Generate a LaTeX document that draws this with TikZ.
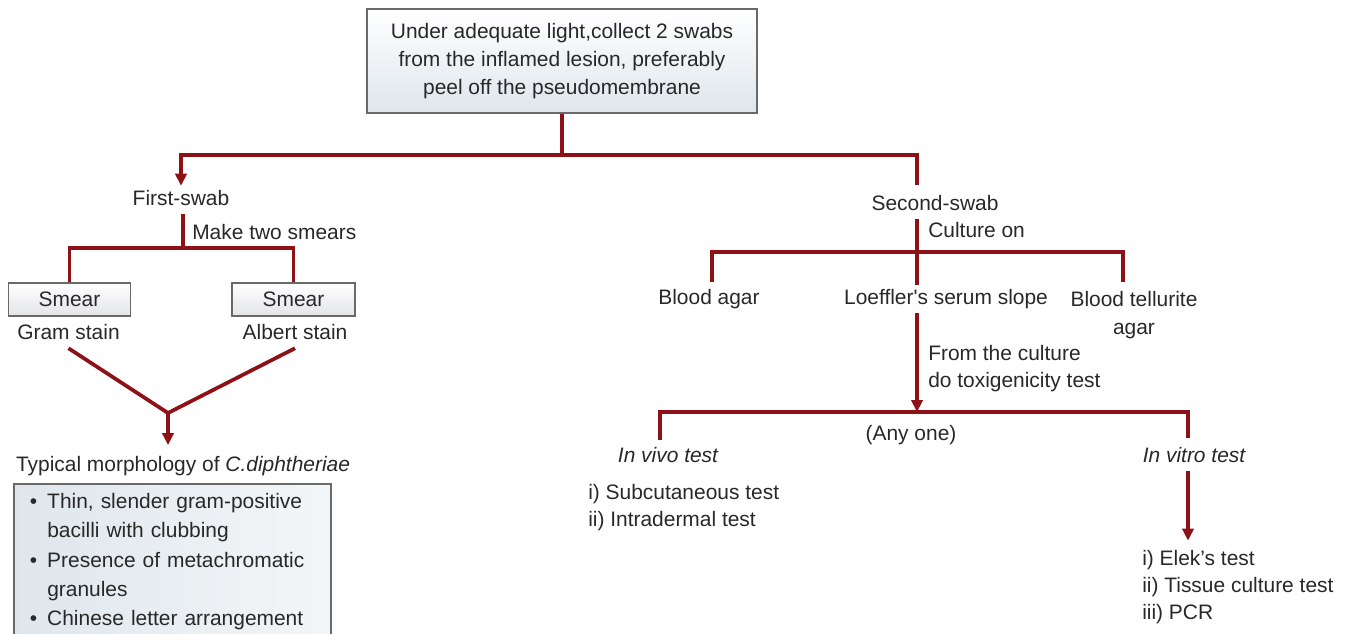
\documentclass[tikz,border=0pt]{standalone}
\usepackage{fontspec}
\setmainfont{Liberation Sans}
\usepackage{tikz}
\usetikzlibrary{arrows.meta,positioning,calc}
\definecolor{linkred}{RGB}{140,18,24}
\definecolor{inkgray}{RGB}{40,40,40}
\definecolor{framegray}{RGB}{105,105,105}
\definecolor{paleblue}{RGB}{222,230,236}
\definecolor{palegray}{RGB}{226,228,230}
\newcommand{\chartfont}{\fontsize{15.7pt}{20.3pt}\selectfont}
\newcommand{\taxon}[1]{\textit{#1}}
\tikzset{
  lbl/.style={font=\chartfont,text=inkgray,inner xsep=0pt,inner ysep=3pt,text height=11.5pt,text depth=3.5pt},
  lbltwo/.style={font=\chartfont,text=inkgray,inner xsep=0pt,inner ysep=4pt},
  topbox/.style={draw=framegray,line width=1.1pt,top color=white,bottom color=paleblue,minimum width=292.5pt,minimum height=78pt,align=center,text=inkgray,font=\fontsize{15.7pt}{21pt}\selectfont},
  smearbox/.style={draw=framegray,line width=0.9pt,top color=white,bottom color=palegray,minimum height=24.75pt,inner sep=0pt,text=inkgray,font=\chartfont},
  morphbox/.style={draw=framegray,line width=1.4pt,left color=paleblue,right color=paleblue!35!white,text width=213.75pt,inner xsep=12pt,inner ysep=7pt,align=left,text=inkgray,font=\fontsize{15.7pt}{22pt}\selectfont},
  flow/.style={draw=linkred,line width=2.8pt},
  flowarr/.style={flow,-{Triangle[length=9pt,width=8.5pt]}}
}
\begin{document}
\begin{tikzpicture}[x=0.75pt,y=-0.75pt]
\useasboundingbox (0,0) rectangle (1348,634);
\clip (0,0) rectangle (1348,634);
\node[topbox] (collect) at (562,61) {Under adequate light,collect 2 swabs\\from the inflamed lesion, preferably\\peel off the pseudomembrane};
\coordinate (topjoin) at (562,155);
\coordinate (swabend) at (917,185);
\node[lbl] (firstswab) at (181,200) {First-swab};
\node[lbl,anchor=west] (twosmears) at (192,234) {Make two smears};
\coordinate (smearjoin) at (183,248);
\node[smearbox,minimum width=91.5pt] (smearL) at (69.5,299.5) {Smear};
\node[smearbox,minimum width=92.25pt] (smearR) at (293.5,299.5) {Smear};
\node[lbl] (gram) at (68.5,334) {Gram stain};
\node[lbl] (albert) at (295,334) {Albert stain};
\coordinate (vee) at (168,413);
\node[lbl] (morphtitle) at (183,466) {Typical morphology of \taxon{C.diphtheriae}};
\node[morphbox,anchor=north west] (morph) at (13,483) {\makebox[13pt][l]{•}Thin, slender gram-positive\\\hspace*{13pt}bacilli with clubbing\\\makebox[13pt][l]{•}Presence of metachromatic\\\hspace*{13pt}granules\\\makebox[13pt][l]{•}Chinese letter arrangement};
\node[lbl] (secondswab) at (935,205) {Second-swab};
\node[lbl,anchor=west] (cultureon) at (928,232) {Culture on};
\coordinate (cultjoin) at (917,252);
\coordinate (agarL) at (712,282);
\coordinate (agarR) at (1123,282);
\node[lbl] (bloodagar) at (709,299) {Blood agar};
\node[lbl] (loeffler) at (946,299) {Loeffler\textquotesingle s serum slope};
\node[lbltwo,align=center,font=\fontsize{15.7pt}{21.5pt}\selectfont] (tellurite) at (1134,315) {Blood tellurite\\agar};
\node[lbltwo,align=left,anchor=west] (fromculture) at (928,369) {From the culture\\do toxigenicity test};
\coordinate (testjoin) at (917,412);
\coordinate (vivoend) at (660,440);
\coordinate (vitroend) at (1188,438);
\node[lbl] (anyone) at (911,435) {(Any one)};
\node[lbl,font=\chartfont\itshape] (invivo) at (668,457) {In vivo test};
\node[lbl,font=\chartfont\itshape] (invitro) at (1194,457) {In vitro test};
\node[lbltwo,align=left,anchor=west] (vivolist) at (588,508) {i) Subcutaneous test\\ii) Intradermal test};
\node[lbltwo,align=left,anchor=west,inner ysep=7pt] (vitrolist) at (1142,587) {i) Elek’s test\\ii) Tissue culture test\\iii) PCR};

\draw[flow] (collect.south) -- (topjoin);
\draw[flowarr] (topjoin) -| (firstswab.north);
\draw[flow] (topjoin) -| (swabend);
\draw[flow] (smearjoin |- firstswab.south) -- (smearjoin);
\draw[flow] (smearL.north) |- (smearjoin) -| (smearR.north);
\draw[flow] (gram.south) -- (vee) -- (albert.south);
\draw[flowarr,shorten >=5pt] (vee) -- (vee |- morphtitle.north);
\draw[flow] (swabend |- secondswab.south) -- (cultjoin);
\draw[flow] (agarL) -- (agarL |- cultjoin) -- (agarR |- cultjoin) -- (agarR);
\draw[flow] (cultjoin) -- (cultjoin |- loeffler.north);
\draw[flowarr] (cultjoin |- loeffler.south) -- (testjoin);
\draw[flow] (vivoend) -- (vivoend |- testjoin) -- (vitroend |- testjoin) -- (vitroend);
\draw[flowarr] (vitroend |- invitro.south) -- (vitroend |- vitrolist.north);
\end{tikzpicture}
\end{document}
